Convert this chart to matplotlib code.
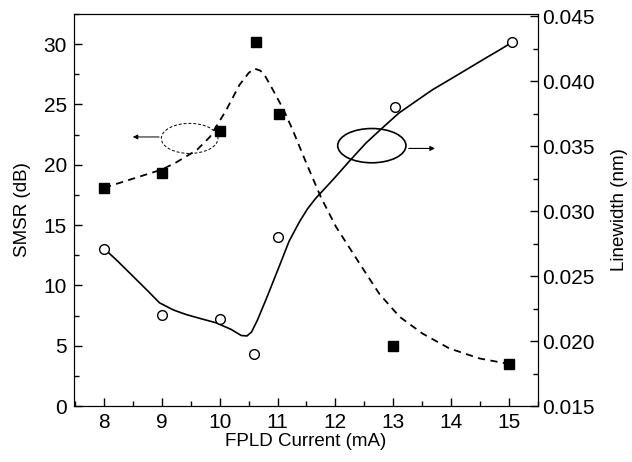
import matplotlib
matplotlib.use("Agg")
import matplotlib.pyplot as plt
from matplotlib.patches import Ellipse
from matplotlib.ticker import MultipleLocator

plt.rcParams["font.family"] = ["Liberation Sans", "DejaVu Sans"]

# measured points
smsr_x = [8, 9, 10, 10.63, 11.03, 13, 15]
smsr_db = [18.1, 19.3, 22.8, 30.2, 24.2, 5.0, 3.5]
lw_x = [8, 9, 10, 10.59, 11.0, 13.03, 15.05]
lw_nm = [0.0271, 0.0220, 0.0217, 0.0190, 0.0280, 0.0380, 0.0430]

# fitted curves
smsr_fit_x = [8.0, 8.24, 8.67, 9.0, 9.25, 9.6, 9.83, 10.11, 10.34, 10.5, 10.6, 10.7,
              10.78, 10.92, 11.1, 11.26, 11.5, 11.75, 12.01, 12.42, 12.76, 13.11,
              13.51, 13.97, 14.49, 14.89, 15.0]
smsr_fit_db = [18.1, 18.45, 19.1, 19.6, 20.2, 21.2, 22.3, 24.5, 26.6, 27.6, 27.97, 27.8,
               27.4, 26.2, 24.6, 22.9, 20.1, 17.3, 14.86, 11.8, 9.3, 7.4, 6.0, 4.78,
               3.95, 3.59, 3.5]
lw_fit_x = [8.01, 8.25, 8.5, 8.75, 8.96, 9.2, 9.42, 9.7, 9.94, 10.2, 10.37, 10.47,
            10.55, 10.65, 10.8, 11.03, 11.2, 11.38, 11.52, 11.66, 11.96, 12.25, 12.53,
            12.82, 13.1, 13.4, 13.68, 14.0, 14.3, 14.6, 14.83, 15.05]
lw_fit_nm = [0.0271, 0.0261, 0.0250, 0.0239, 0.02295, 0.0224, 0.02205, 0.0217,
             0.02141, 0.0209, 0.02044, 0.0204, 0.0207, 0.0216, 0.0232, 0.02577,
             0.0277, 0.0292, 0.0302, 0.0310, 0.03244, 0.0339, 0.03526, 0.03645,
             0.03757, 0.0385, 0.03936, 0.0402, 0.0410, 0.0418, 0.0424, 0.0430]

fig = plt.figure(figsize=(6.32, 4.62), dpi=100)
ax1 = fig.add_axes([0.117, 0.121, 0.734, 0.849])
ax2 = ax1.twinx()

ax1.plot(smsr_fit_x, smsr_fit_db, color="black", lw=1.3, dashes=(4, 3))
ax1.plot(smsr_x, smsr_db, "s", color="black", ms=7, zorder=5)
ax2.plot(lw_fit_x, lw_fit_nm, color="black", lw=1.2)
ax2.plot(lw_x, lw_nm, "o", mfc="white", mec="black", mew=1.0, ms=7, zorder=5)

ax1.set_xlim(7.48, 15.5)
ax1.set_ylim(0, 32.5)
ax2.set_ylim(0.015, 0.0452)

ax1.xaxis.set_major_locator(MultipleLocator(1))
ax1.xaxis.set_minor_locator(MultipleLocator(0.5))
ax1.yaxis.set_major_locator(MultipleLocator(5))
ax1.yaxis.set_minor_locator(MultipleLocator(2.5))
ax2.yaxis.set_major_locator(MultipleLocator(0.005))
ax2.yaxis.set_minor_locator(MultipleLocator(0.0025))
ax2.yaxis.set_major_formatter(matplotlib.ticker.FormatStrFormatter("%.3f"))

for a in (ax1, ax2):
    a.tick_params(which="major", direction="in", length=6, width=1, labelsize=15)
    a.tick_params(which="minor", direction="in", length=3.5, width=1)
ax1.tick_params(axis="both", pad=5)
ax2.tick_params(axis="y", pad=3)

ax1.set_xlabel("FPLD Current (mA)", fontsize=13.5, labelpad=1)
ax1.set_ylabel("SMSR (dB)", fontsize=13.5, labelpad=9)
ax2.set_ylabel("Linewidth (nm)", fontsize=13.5, labelpad=12)

# ellipses marking which curve goes with which axis
ax1.add_patch(Ellipse((9.48, 22.18), 0.98, 2.49, fill=False, ec="black",
                      lw=0.7, ls=(0, (3, 2))))
ax1.annotate("", xy=(8.45, 22.3), xytext=(9.0, 22.3),
             arrowprops=dict(arrowstyle="-|>", lw=0.7, color="black",
                             mutation_scale=7))
ax1.add_patch(Ellipse((12.63, 21.58), 1.18, 2.84, fill=False, ec="black", lw=1.2))
ax1.annotate("", xy=(13.77, 21.35), xytext=(13.22, 21.35),
             arrowprops=dict(arrowstyle="-|>", lw=0.8, color="black",
                             mutation_scale=7))

fig.savefig("out.png", dpi=100)
